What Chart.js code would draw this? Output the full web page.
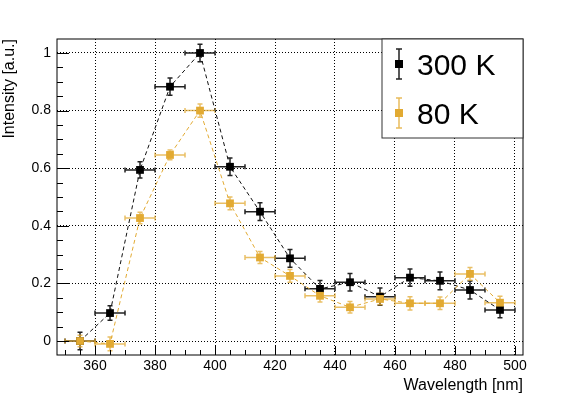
<!DOCTYPE html>
<html><head><meta charset="utf-8">
<script src="https://cdn.jsdelivr.net/npm/chart.js@4"></script>
<style>html,body{margin:0;padding:0;background:#fff;} #wrap{width:581px;height:395px;}</style>
</head><body><div id="wrap"><canvas id="c" width="581" height="395"></canvas></div>
<script>
// ---- data ----
const wavelengths   = [355,365,375,385,395,405,415,425,435,445,455,465,475,485,495];
const wavelengthErr = [5,5,5,5,5,5,5,5,5,5,5,5,5,5,5];
const intensity300K = [0.000,0.097,0.594,0.883,1.000,0.605,0.449,0.287,0.181,0.204,0.154,0.220,0.209,0.177,0.108];
const error300K     = [0.030,0.025,0.028,0.030,0.030,0.030,0.031,0.031,0.029,0.030,0.030,0.030,0.031,0.031,0.027];
const intensity80K  = [0.000,-0.010,0.427,0.646,0.800,0.478,0.290,0.226,0.157,0.117,0.146,0.131,0.131,0.233,0.133];
const error80K      = [0.020,0.024,0.020,0.017,0.023,0.022,0.021,0.022,0.022,0.020,0.020,0.023,0.022,0.022,0.022];
const seriesLabels  = ['300 K','80 K'];
const xTickValues   = [360,380,400,420,440,460,480,500];
const yTickValues   = [0,0.2,0.4,0.6,0.8,1];
const xTitle = 'Wavelength [nm]';
const yTitle = 'Intensity [a.u.]';

const BLACK = '#000000';
const GOLD = '#e2aa32';
const FONT = 'Liberation Sans';

const toPoints = (ys) => wavelengths.map((x, i) => ({x: x, y: ys[i]}));

const errorBarPlugin = {
  id: 'errorBars',
  beforeDatasetsDraw(chart) {
    const ctx = chart.ctx, xs = chart.scales.x, ys = chart.scales.y;
    const metas = chart.getSortedVisibleDatasetMetas().slice().reverse();
    metas.forEach(meta => {
      const ds = chart.data.datasets[meta.index];
      ctx.save();
      ctx.strokeStyle = ds.errColor;
      ctx.lineWidth = 1.5;
      ds.data.forEach((p, i) => {
        const px = xs.getPixelForValue(p.x);
        const py = ys.getPixelForValue(p.y);
        const xl = xs.getPixelForValue(p.x - ds.errX[i]);
        const xr = xs.getPixelForValue(p.x + ds.errX[i]);
        const yt = ys.getPixelForValue(p.y + ds.errY[i]);
        const yb = ys.getPixelForValue(p.y - ds.errY[i]);
        ctx.beginPath();
        ctx.moveTo(xl, py); ctx.lineTo(xr, py);
        ctx.moveTo(xl, py - 2.5); ctx.lineTo(xl, py + 2.5);
        ctx.moveTo(xr, py - 2.5); ctx.lineTo(xr, py + 2.5);
        ctx.moveTo(px, yt); ctx.lineTo(px, yb);
        ctx.moveTo(px - 2.5, yt); ctx.lineTo(px + 2.5, yt);
        ctx.moveTo(px - 2.5, yb); ctx.lineTo(px + 2.5, yb);
        ctx.stroke();
      });
      ctx.restore();
    });
  }
};

const framePlugin = {
  id: 'rootFrame',
  afterDraw(chart) {
    const ctx = chart.ctx, a = chart.chartArea, xs = chart.scales.x, ys = chart.scales.y;
    ctx.save();
    ctx.strokeStyle = '#000';
    ctx.lineWidth = 1;
    ctx.beginPath();
    for (let v = Math.ceil(xs.min / 5) * 5; v <= xs.max + 1e-9; v += 5) {
      const px = Math.round(xs.getPixelForValue(v)) + 0.5;
      const len = (Math.abs(v % 20) < 1e-6) ? 9 : 5;
      ctx.moveTo(px, a.bottom); ctx.lineTo(px, a.bottom - len);
    }
    for (let k = Math.ceil(ys.min / 0.05 - 1e-6); k * 0.05 <= ys.max + 1e-9; k++) {
      const v = k * 0.05;
      const py = Math.round(ys.getPixelForValue(v)) + 0.5;
      const len = (k % 4 === 0) ? 12 : 6;
      ctx.moveTo(a.left, py); ctx.lineTo(a.left + len, py);
    }
    ctx.stroke();
    ctx.strokeRect(a.left, a.top, a.right - a.left, a.bottom - a.top);

    // legend box
    const lx = 382, ly = 39, lw = 141, lh = 99;
    ctx.fillStyle = '#fff';
    ctx.fillRect(lx, ly, lw, lh);
    ctx.strokeStyle = '#333';
    ctx.strokeRect(lx, ly, lw, lh);
    const entries = [
      {label: seriesLabels[0], color: BLACK, bar: '#222', cy: 64},
      {label: seriesLabels[1], color: GOLD, bar: 'rgba(226,170,50,0.8)', cy: 113}
    ];
    entries.forEach(e => {
      const cx = 399;
      ctx.strokeStyle = e.bar;
      ctx.lineWidth = 1.5;
      ctx.beginPath();
      ctx.moveTo(cx, e.cy - 15); ctx.lineTo(cx, e.cy + 15);
      ctx.moveTo(cx - 3, e.cy - 15); ctx.lineTo(cx + 3, e.cy - 15);
      ctx.moveTo(cx - 3, e.cy + 15); ctx.lineTo(cx + 3, e.cy + 15);
      ctx.stroke();
      ctx.fillStyle = e.color;
      ctx.fillRect(cx - 4, e.cy - 4, 8, 8);
      ctx.fillStyle = '#000';
      ctx.font = '30px "' + FONT + '"';
      ctx.textAlign = 'left';
      ctx.textBaseline = 'alphabetic';
      ctx.fillText(e.label, 417, e.cy + 11);
    });
    ctx.restore();
  }
};

const fmt = v => String(Math.round(v * 100) / 100);

new Chart(document.getElementById('c').getContext('2d'), {
  type: 'line',
  data: {
    datasets: [
      {
        label: seriesLabels[0], data: toPoints(intensity300K),
        errX: wavelengthErr, errY: error300K, errColor: '#222',
        borderColor: '#111', borderWidth: 1, borderDash: [4, 3],
        pointStyle: 'rect', pointRadius: 5.5, pointBorderWidth: 0,
        pointBackgroundColor: BLACK, backgroundColor: BLACK,
        fill: false, tension: 0, order: 1
      },
      {
        label: seriesLabels[1], data: toPoints(intensity80K),
        errX: wavelengthErr, errY: error80K, errColor: 'rgba(226,170,50,0.75)',
        borderColor: GOLD, borderWidth: 1, borderDash: [4, 3],
        pointStyle: 'rect', pointRadius: 5.5, pointBorderWidth: 0,
        pointBackgroundColor: GOLD, backgroundColor: GOLD,
        fill: false, tension: 0, order: 0
      }
    ]
  },
  options: {
    responsive: false, animation: false, devicePixelRatio: 1,
    layout: {padding: {top: 39, right: 58, left: 0, bottom: 0}},
    plugins: {legend: {display: false}, tooltip: {enabled: false}},
    scales: {
      x: {
        type: 'linear', min: 347.33, max: 502.67,
        afterBuildTicks: s => { s.ticks = xTickValues.map(v => ({value: v})); },
        afterFit: s => { s.height = 40; },
        grid: {color: '#000', lineWidth: 1, drawTicks: false},
        border: {display: false, dash: [1, 2]},
        ticks: {padding: 3, color: '#000', maxRotation: 0, autoSkip: false,
                font: {family: FONT, size: 14}, callback: v => fmt(v)},
        title: {display: true, text: xTitle, align: 'end', color: '#000',
                font: {family: FONT, size: 16}, padding: {top: 0, bottom: 0}}
      },
      y: {
        type: 'linear', min: -0.0486, max: 1.0486,
        afterBuildTicks: s => { s.ticks = yTickValues.map(v => ({value: v})); },
        afterFit: s => { s.width = 57; },
        grid: {color: '#000', lineWidth: 1, drawTicks: false},
        border: {display: false, dash: [1, 2]},
        ticks: {padding: 6, color: '#000', autoSkip: false,
                font: {family: FONT, size: 14}, callback: v => fmt(v)},
        title: {display: true, text: yTitle, align: 'end', color: '#000',
                font: {family: FONT, size: 16}, padding: {top: 0, bottom: 0}}
      }
    }
  },
  plugins: [errorBarPlugin, framePlugin]
});
</script>
</body></html>
